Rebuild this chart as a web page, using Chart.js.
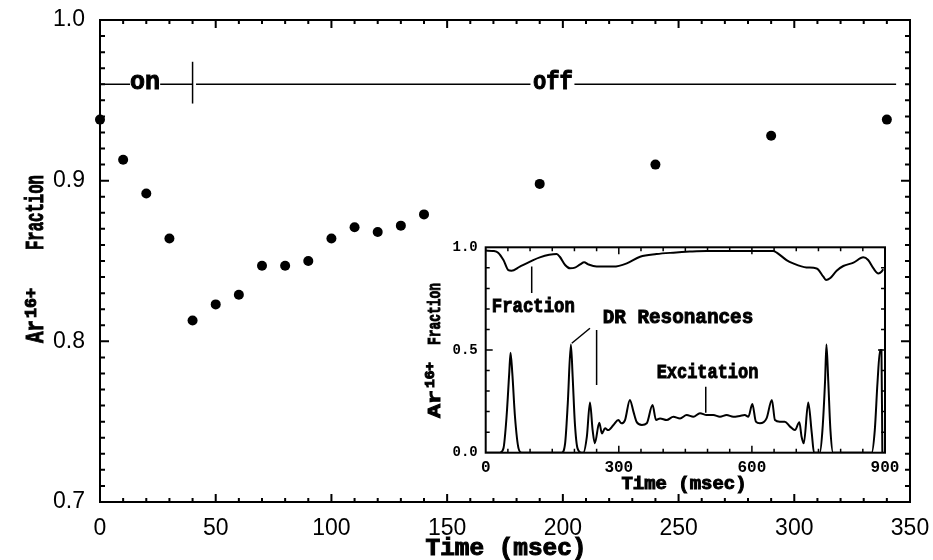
<!DOCTYPE html>
<html><head><meta charset="utf-8">
<script src="https://cdn.jsdelivr.net/npm/chart.js@4.4.0/dist/chart.umd.min.js"></script>
<style>
html,body{margin:0;padding:0;background:#fff;}
#wrap{position:relative;width:933px;height:560px;overflow:hidden;}
#main{position:absolute;left:0;top:0;}
#inset{position:absolute;left:400px;top:230px;}
</style></head><body>
<div id="wrap"><canvas id="main" width="933" height="560"></canvas><canvas id="inset" width="500" height="270"></canvas></div>
<script>
// ---------- main panel data ----------
const mainTime = [0,10,20,30,40,50,60,70,80,90,100,110,120,130,140,190,240,290,340];
const mainFraction = [0.938,0.913,0.892,0.864,0.813,0.823,0.829,0.847,0.847,0.850,0.864,0.871,0.868,0.872,0.879,0.898,0.910,0.928,0.938];
const mainXTicks = [0,50,100,150,200,250,300,350];
const mainYTicks = [0.7,0.8,0.9,1.0];
const beamLevel = 0.96;
const beamSegStart = [0,26,41.5,205];
const beamSegEnd = [13,40,186,344];
const beamSwitchTime = 40;
const beamSwitchSpan = [0.948,0.974];
const beamLabels = ['on','off'];
const beamLabelTime = [19.4,195.7];
const beamLabelValue = [0.9569,0.9569];

// ---------- inset data ----------
const fracTime = [0,17,28,40,51,58,77,100,122,160,167,179,190,201,213,222,231,250,288,318,348,385,423,460,498,573,648,656,678,693,723,746,761,767,776,791,806,829,851,862,874,885,892,896];
const fracValue = [0.984,0.982,0.974,0.938,0.889,0.886,0.906,0.930,0.951,0.967,0.954,0.914,0.898,0.901,0.917,0.927,0.917,0.906,0.906,0.922,0.954,0.967,0.974,0.979,0.982,0.982,0.982,0.974,0.938,0.922,0.902,0.897,0.857,0.841,0.849,0.886,0.909,0.925,0.951,0.938,0.897,0.873,0.881,0.893];
const drTime = [0,32,40,47,53,56,60,66,74,81,171,179,185,192,196,201,207,216,220,228,235,241,246,256,262,269,276,288,299,306,314,325,333,340,352,363,376,384,393,408,423,438,453,468,483,498,513,528,543,558,573,584,592,601,609,618,633,645,652,663,674,686,697,707,712,717,727,735,740,753,759,765,768,772,777,783,870,877,883,889,892,894];
const drValue = [0,0,0.021,0.175,0.386,0.487,0.386,0.175,0.021,0,0,0.046,0.240,0.527,0.370,0.143,0.021,0,0,0.078,0.244,0.110,0.046,0.146,0.094,0.119,0.110,0.135,0.159,0.143,0.159,0.257,0.200,0.151,0.135,0.143,0.232,0.159,0.167,0.159,0.175,0.167,0.183,0.175,0.192,0.183,0.183,0.175,0.183,0.175,0.179,0.183,0.175,0.237,0.151,0.143,0.167,0.257,0.159,0.151,0.151,0.127,0.110,0.148,0.078,0.046,0.244,0.094,0,0,0.110,0.354,0.527,0.354,0.110,0,0,0.110,0.338,0.50,0.50,0];
const insetXTicks = [0,300,600,900];
const insetYTicks = [0.0,0.5,1.0];
const pointerStart = [[103.7,0.907],[194,0.533],[250,0.597],[496,0.321]];
const pointerEnd = [[103.7,0.777],[235,0.606],[250,0.330],[496,0.195]];
const insetLabels = ['Fraction','DR Resonances','Excitation'];
const insetLabelTime = [107.3,433.4,499.9];
const insetLabelValue = [0.6865,0.630,0.362];

// ---------- helpers ----------
const MONO = '"Liberation Mono","Courier New",monospace';
function fitText(ctx, s, x, y, size, width, opt){
  opt = opt || {};
  ctx.save();
  ctx.translate(x, y);
  if (opt.rot) ctx.rotate(opt.rot);
  ctx.font = 'bold ' + size + 'px ' + MONO;
  const w = ctx.measureText(s).width;
  const sx = width ? width / w : 1;
  ctx.scale(sx, 1);
  ctx.textAlign = opt.align || 'center';
  ctx.textBaseline = 'alphabetic';
  ctx.fillStyle = '#000';
  ctx.fillText(s, 0, 0);
  ctx.lineWidth = opt.stroke == null ? 1 : opt.stroke; ctx.strokeStyle = '#000';
  ctx.strokeText(s, 0, 0);
  ctx.restore();
}
function framePlugin(o){
  return { id: o.id, afterDraw(chart){
    const ctx = chart.ctx, a = chart.chartArea, xs = chart.scales.x, ys = chart.scales.y;
    ctx.save();
    ctx.strokeStyle = '#000';
    ctx.lineWidth = o.lw;
    ctx.strokeRect(a.left, a.top, a.right - a.left, a.bottom - a.top);
    ctx.lineWidth = o.tw;
    ctx.beginPath();
    const nx = Math.round((xs.max - xs.min) / o.xMinor), rx = Math.round(o.xMajor / o.xMinor);
    for (let i = 1; i < nx; i++){
      const px = xs.getPixelForValue(xs.min + i * o.xMinor);
      const L = (i % rx === 0) ? o.xMajorLen : o.xMinorLen;
      ctx.moveTo(px, a.bottom); ctx.lineTo(px, a.bottom - L);
      ctx.moveTo(px, a.top); ctx.lineTo(px, a.top + L);
    }
    const ny = Math.round((ys.max - ys.min) / o.yMinor), ry = Math.round(o.yMajor / o.yMinor);
    for (let i = 1; i < ny; i++){
      const py = ys.getPixelForValue(ys.min + i * o.yMinor);
      const L = (i % ry === 0) ? o.yMajorLen : o.yMinorLen;
      ctx.moveTo(a.left, py); ctx.lineTo(a.left + L, py);
      ctx.moveTo(a.right, py); ctx.lineTo(a.right - L, py);
    }
    ctx.stroke();
    ctx.restore();
  }};
}
function zeroPad(s){ s.paddingTop = 0; s.paddingBottom = 0; s.paddingLeft = 0; s.paddingRight = 0; }
function pinArea(chart, want){
  for (let k = 0; k < 4; k++){
    const a = chart.chartArea;
    const p = Object.assign({}, chart.config.options.layout.padding);
    const dT = want.top - a.top, dL = want.left - a.left, dR = a.right - want.right, dB = a.bottom - want.bottom;
    if (Math.abs(dT) + Math.abs(dL) + Math.abs(dR) + Math.abs(dB) < 0.01) break;
    p.top += dT; p.left += dL; p.right += dR; p.bottom += dB;
    chart.config.options.layout.padding = p;
    chart.update('none');
  }
}
const seg = (x0,y0,x1,y1,w) => ({data:[{x:x0,y:y0},{x:x1,y:y1}], showLine:true, borderColor:'#000', borderWidth:w, pointRadius:0, clip:false});

// ---------- main chart ----------
const mainText = { id:'mainText', afterDraw(chart){
  const ctx = chart.ctx, xs = chart.scales.x, ys = chart.scales.y;
  fitText(ctx, 'Time (msec)', 506, 555, 23, 161);
  // y title: Ar^16+ Fraction (rotated)
  fitText(ctx, 'Ar', 43, 343, 25, 23, {rot:-Math.PI/2, align:'left'});
  fitText(ctx, '16+', 36, 318, 16, 30, {rot:-Math.PI/2, align:'left'});
  fitText(ctx, 'Fraction', 43, 250, 25, 75, {rot:-Math.PI/2, align:'left'});
  const bw = [30, 40];
  beamLabels.forEach((s,i) => fitText(ctx, s, xs.getPixelForValue(beamLabelTime[i]), ys.getPixelForValue(beamLabelValue[i]), 25, bw[i]));
}};
const mainDatasets = [
  {data: mainTime.map((t,i)=>({x:t, y:mainFraction[i]})), pointRadius:5, pointBackgroundColor:'#000', pointBorderColor:'#000', pointBorderWidth:0, showLine:false, clip:false}
];
beamSegStart.forEach((s,i)=>mainDatasets.push(seg(s, beamLevel, beamSegEnd[i], beamLevel, 1.5)));
mainDatasets.push(seg(beamSwitchTime, beamSwitchSpan[0], beamSwitchTime, beamSwitchSpan[1], 1.5));

const mainChart = new Chart(document.getElementById('main'), {
  type:'scatter',
  data:{datasets: mainDatasets},
  options:{
    responsive:false, animation:false, events:[],
    layout:{padding:{left:0, top:20, right:23, bottom:0}, autoPadding:false},
    plugins:{legend:{display:false}, tooltip:{enabled:false}},
    scales:{
      x:{type:'linear', min:0, max:350,
        grid:{display:false, drawTicks:false}, border:{display:false},
        ticks:{padding:13, color:'#000', maxRotation:0, autoSkip:false, font:{family:'"Liberation Sans",Arial,sans-serif', size:23}},
        afterBuildTicks: s => { s.ticks = mainXTicks.map(v=>({value:v})); },
        afterFit: s => { s.height = 58; zeroPad(s); }
      },
      y:{type:'linear', min:0.7, max:1.0,
        grid:{display:false, drawTicks:false}, border:{display:false},
        ticks:{padding:15, color:'#000', autoSkip:false, font:{family:'"Liberation Sans",Arial,sans-serif', size:23}, callback: v => Number(v).toFixed(1)},
        afterBuildTicks: s => { s.ticks = mainYTicks.map(v=>({value:v})); },
        afterFit: s => { s.width = 100; zeroPad(s); }
      }
    }
  },
  plugins:[framePlugin({id:'mainFrame', lw:2, tw:2, xMinor:10, xMajor:50, yMinor:0.01, yMajor:0.1, xMajorLen:8, xMinorLen:4, yMajorLen:9, yMinorLen:5}), mainText]
});
pinArea(mainChart, {left:100, top:20, right:910, bottom:502});

// ---------- inset chart ----------
const insetText = { id:'insetText', afterDraw(chart){
  const ctx = chart.ctx, xs = chart.scales.x, ys = chart.scales.y;
  const ox = 400, oy = 230;
  fitText(ctx, 'Time (msec)', 684 - ox, 489 - oy, 19, 125);
  fitText(ctx, 'Ar', 440 - ox, 418 - oy, 19, 28, {rot:-Math.PI/2, align:'left'});
  fitText(ctx, '16+', 434 - ox, 388 - oy, 12, 26, {rot:-Math.PI/2, align:'left'});
  fitText(ctx, 'Fraction', 440 - ox, 345 - oy, 19, 62, {rot:-Math.PI/2, align:'left'});
  const lw = [83, 150.6, 101.6];
  insetLabels.forEach((s,i) => fitText(ctx, s, xs.getPixelForValue(insetLabelTime[i]), ys.getPixelForValue(insetLabelValue[i]), 21, lw[i]));
}};
const insetDatasets = [
  {data: fracTime.map((t,i)=>({x:t, y:fracValue[i]})), showLine:true, borderColor:'#000', borderWidth:2, pointRadius:0, cubicInterpolationMode:'monotone'},
  {data: drTime.map((t,i)=>({x:t, y:drValue[i]})), showLine:true, borderColor:'#000', borderWidth:2, pointRadius:0, cubicInterpolationMode:'monotone'}
];
pointerStart.forEach((p,i)=>insetDatasets.push(seg(p[0], p[1], pointerEnd[i][0], pointerEnd[i][1], 1.5)));

const insetChart = new Chart(document.getElementById('inset'), {
  type:'scatter',
  data:{datasets: insetDatasets},
  options:{
    responsive:false, animation:false, events:[],
    layout:{padding:{left:0, top:17, right:15, bottom:0}, autoPadding:false},
    plugins:{legend:{display:false}, tooltip:{enabled:false}},
    scales:{
      x:{type:'linear', min:0, max:900,
        grid:{display:false, drawTicks:false}, border:{display:false},
        ticks:{padding:6, color:'#000', maxRotation:0, autoSkip:false, font:{family:MONO, size:16, weight:'bold'}},
        afterBuildTicks: s => { s.ticks = insetXTicks.map(v=>({value:v})); },
        afterFit: s => { s.height = 47; zeroPad(s); }
      },
      y:{type:'linear', min:0, max:1,
        grid:{display:false, drawTicks:false}, border:{display:false},
        ticks:{padding:8, color:'#000', autoSkip:false, font:{family:MONO, size:14, weight:'bold'}, callback: v => Number(v).toFixed(1)},
        afterBuildTicks: s => { s.ticks = insetYTicks.map(v=>({value:v})); },
        afterFit: s => { s.width = 86; zeroPad(s); }
      }
    }
  },
  plugins:[framePlugin({id:'insetFrame', lw:2, tw:1.5, xMinor:50, xMajor:300, yMinor:0.1, yMajor:0.5, xMajorLen:7, xMinorLen:4, yMajorLen:7, yMinorLen:4}), insetText]
});
pinArea(insetChart, {left:85.7, top:17.3, right:485, bottom:222.7});
</script>
</body></html>
